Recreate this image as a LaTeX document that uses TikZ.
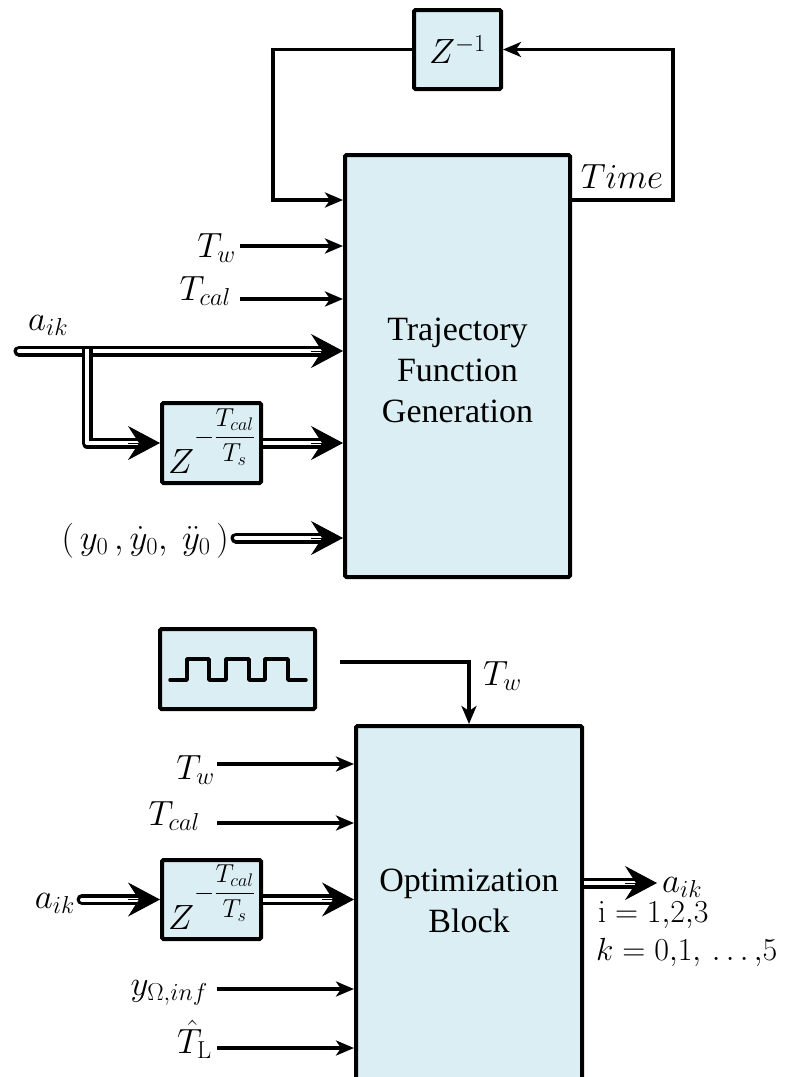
\RequirePackage{fix-cm}
\documentclass[tikz,border=0pt]{standalone}
\usepackage[no-math]{fontspec}
\setmainfont{Liberation Serif}
\usetikzlibrary{arrows.meta,calc}
\definecolor{boxfill}{RGB}{219,238,244}
\newcommand{\delayexp}{{\fontsize{35}{40}\selectfont$Z$}\raisebox{29pt}{\fontsize{26}{30}\selectfont$\displaystyle-\frac{T_{cal}}{T_s}$}}
\tikzset{
 blk/.style={draw, line width=4pt, fill=boxfill, inner sep=0pt, rounded corners=1.5pt},
 sa/.style={line width=3.5pt, -{Stealth[length=18pt,width=15pt,inset=5pt]}},
 dblr/.style={line width=11pt, line cap=round, line join=round, postaction={draw=white, line width=4pt, line cap=round, line join=round}},
 dbl/.style={line width=11pt, line cap=butt, line join=round, postaction={draw=white, line width=4pt, line cap=butt, line join=round}},
 dhead/.style={line width=1pt, -{Stealth[length=32pt,width=34pt,inset=11pt]}},
 lbl/.style={inner sep=0pt, font=\fontsize{35}{40}\selectfont},
 sml/.style={inner sep=0pt, font=\fontsize{32}{38}\selectfont},
 txt/.style={align=center, inner sep=0pt, font=\fontsize{34}{41}\selectfont},
}
\begin{document}
\begin{tikzpicture}[x=1pt,y=-1pt]
\useasboundingbox (0,0) rectangle (785,1077);
% ---------- top part ----------
\node[blk, minimum width=225pt, minimum height=422pt] (tf) at (457.5,366) {};
\node[txt] (tft) at (457.5,370) {Trajectory\\Function\\Generation};
\node[blk, minimum width=87pt, minimum height=79pt, lbl] (zb) at (457.5,49.5) {$Z^{-1}$};
\coordinate (fbl) at (273,200);
\coordinate (fbr) at (673,49.5);
\draw[sa] (zb.west) -| (fbl) -- (fbl -| tf.west);
\draw[sa] (fbl -| tf.east) -| (fbr) -- (zb.east);
\node[lbl, anchor=base] (time) at (622,188) {$Time$};
% inputs
\coordinate (tw1) at (240,246);
\draw[sa] (tw1) -- (tw1 -| tf.west);
\node[lbl, anchor=base east] (ltw1) at (236,257) {$T_w$};
\coordinate (tc1) at (240,299);
\draw[sa] (tc1) -- (tc1 -| tf.west);
\node[lbl, anchor=base east] (ltc1) at (231,300) {$T_{cal}$};
% delay box top
\node[blk, minimum width=99pt, minimum height=80pt] (db1) at (211.5,443) {};
\node[inner sep=0pt, anchor=base] (db1t) at ($(db1.south)+(0,-12)$) {\delayexp};
% a_ik main
\coordinate (a1) at (19,351);
\coordinate (a1e) at (a1 -| tf.west);
\draw[dblr] (a1) -- ($(a1e)+(-18,0)$);
\draw[dhead] ($(a1e)+(-32,0)$) -- (a1e);
\node[lbl, anchor=base west] (la1) at (28,330) {$a_{ik}$};
% branch
\coordinate (br) at (87,348.5);
\draw[dbl] (br) -- (br |- db1.west) -- ($(db1.west)+(-18,0)$);
\draw[dhead] ($(db1.west)+(-32,0)$) -- (db1.west);
\draw[dbl] (db1.east) -- ($(db1.east -| tf.west)+(-18,0)$);
\draw[dhead] ($(db1.east -| tf.west)+(-32,0)$) -- (db1.east -| tf.west);
% y0
\coordinate (y0) at (236,538);
\draw[dblr] (y0) -- ($(y0 -| tf.west)+(-18,0)$);
\draw[dhead] ($(y0 -| tf.west)+(-32,0)$) -- (y0 -| tf.west);
\node[lbl, anchor=base east] (ly0) at (229,549) {$(\,y_0\,,\dot{y}_0,\ \ddot{y}_0\,)$};
% ---------- bottom part ----------
\node[blk, minimum width=155pt, minimum height=80pt] (sw) at (237.5,669) {};
\draw[line width=3.5pt, line cap=round, line join=round] ($(sw.center)+(-67.5,11)$) -- ++(17,0) -- ++(0,-21) -- ++(22,0) -- ++(0,21) -- ++(17,0) -- ++(0,-21) -- ++(23,0) -- ++(0,21) -- ++(16,0) -- ++(0,-21) -- ++(23,0) -- ++(0,21) -- ++(18,0);
\node[blk, minimum width=226pt, minimum height=374pt] (ob) at (469,913) {};
\node[txt] (obt) at (469,901) {Optimization\\Block};
\coordinate (swo) at (340,662);
\draw[sa] (swo) -| (ob.north);
\node[lbl, anchor=base west] (ltw3) at (483,685) {$T_w$};
% inputs
\coordinate (tw2) at (217,764);
\draw[sa] (tw2) -- (tw2 -| ob.west);
\node[lbl, anchor=base east] (ltw2) at (215,779) {$T_w$};
\coordinate (tc2) at (217,823);
\draw[sa] (tc2) -- (tc2 -| ob.west);
\node[lbl, anchor=base east] (ltc2) at (200,825) {$T_{cal}$};
\node[blk, minimum width=99pt, minimum height=79pt] (db2) at (211.5,899.5) {};
\node[inner sep=0pt, anchor=base] (db2t) at ($(db2.south)+(0,-12)$) {\delayexp};
\coordinate (a2) at (82,899.5);
\draw[dblr] (a2) -- ($(db2.west)+(-18,0)$);
\draw[dhead] ($(db2.west)+(-32,0)$) -- (db2.west);
\node[lbl, anchor=base east] (la2) at (75,908) {$a_{ik}$};
\draw[dbl] (db2.east) -- ($(db2.east -| ob.west)+(-18,0)$);
\draw[dhead] ($(db2.east -| ob.west)+(-32,0)$) -- (db2.east -| ob.west);
\coordinate (yo) at (217,989);
\draw[sa] (yo) -- (yo -| ob.west);
\node[lbl, anchor=base east] (lyo) at (208,995) {$y_{\Omega,inf}$};
\coordinate (tl) at (217,1048);
\draw[sa] (tl) -- (tl -| ob.west);
\node[lbl, anchor=base east] (ltl) at (212,1053) {$\hat{T}_{\mathrm{L}}$};
% output
\coordinate (oo) at (657,883);
\draw[dbl] (oo -| ob.east) -- ($(oo)+(-18,0)$);
\draw[dhead] ($(oo)+(-32,0)$) -- (oo);
\node[lbl, anchor=base west] (lao) at (662,892) {$a_{ik}$};
\node[sml, anchor=base west] (li) at (598,922) {$\mathrm{i}=1{,}2{,}3$};
\node[sml, anchor=base west] (lk) at (596,960) {$k=0{,}1{,}\,\ldots{,}5$};
\end{tikzpicture}
\end{document}
